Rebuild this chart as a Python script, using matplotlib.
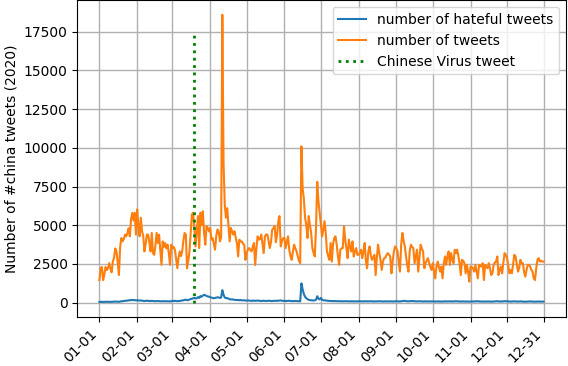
import matplotlib
matplotlib.use("Agg")
import matplotlib.pyplot as plt
import matplotlib.dates as mdates
import numpy as np
import pandas as pd

# daily counts 2020
tweets_jan = [1450, 2200, 2300, 1450, 1800, 2300, 2100, 2200, 2550, 2200, 1950, 2650, 2900, 3500, 3300, 2600,
              1780, 3600, 4170, 3955, 4100, 4390, 4280, 4500, 4800, 4280, 5400, 5800, 5300, 5800, 4390]
tweets_feb = [6020, 5000, 4280, 5480, 4610, 4300, 3305, 3800, 4390, 4390, 3900, 3305, 4500, 3195, 3085, 3700,
              4500, 3850, 4390, 3400, 2435, 3955, 3600, 3850, 3500, 3740, 3200, 2435, 3740]
tweets_mar = [3500, 3600, 3415, 2800, 2220, 2900, 3305, 3000, 3305, 4000, 4500, 4390, 2220, 2700, 3305, 4500,
              5700, 5800, 4800, 3630, 4600, 5590, 3520, 5800, 5000, 5900, 4500, 3740, 4935, 4825, 4600]
tweets_apr = [4825, 4065, 4170, 3800, 3415, 4300, 4720, 4610, 3955, 4200, 18600, 9000, 6300, 5480, 6100, 5000,
              3955, 4825, 4600, 4390, 4610, 4200, 3850, 2980, 4065, 3955, 3955, 3800, 3740, 2760]
tweets_may = [3200, 3415, 3520, 3400, 3305, 3600, 3850, 2435, 3500, 4280, 4065, 4100, 4390, 3800, 3195, 4280,
              4400, 4390, 4000, 3520, 3900, 4720, 4800, 4935, 3900, 4390, 5260, 5590, 3630, 4000, 4170]
tweets_jun = [4170, 3520, 3900, 4280, 3415, 3000, 2760, 3305, 3740, 3500, 3305, 2980, 2700, 2545, 10100, 7370,
              6725, 5480, 5000, 4170, 5590, 5000, 4500, 3520, 3200, 2980, 4825, 7800, 6565, 5800]
tweets_jul = [5040, 4280, 4700, 5260, 4500, 3305, 3000, 2760, 3850, 2650, 3800, 4170, 4280, 3740, 3000, 2435,
              3415, 3500, 3520, 4935, 4065, 3500, 2870, 4065, 3600, 3305, 3955, 2980, 3300, 3520, 3085]
tweets_aug = [3085, 3200, 3415, 2870, 3300, 3850, 2700, 2220, 3300, 3630, 3085, 2760, 2900, 3085, 1780, 2900,
              3740, 3200, 2760, 2110, 2650, 2870, 2900, 3085, 3195, 3100, 2980, 1890, 2650, 3300, 3630]
tweets_sep = [3520, 3305, 2600, 2000, 3740, 4500, 4000, 3630, 2980, 2400, 2000, 3305, 3740, 3600, 3520, 2545,
              3000, 3415, 2000, 2870, 3740, 3500, 3305, 2220, 2545, 2700, 2870, 2545, 2300, 2110]
tweets_oct = [2545, 2000, 1565, 2325, 2650, 2300, 2000, 2325, 1565, 2500, 2980, 2435, 3000, 3305, 2435, 3195,
              2800, 2545, 3415, 3195, 3415, 3000, 2545, 1780, 2760, 2700, 2545, 1890, 2435, 2000, 1350]
tweets_nov = [2325, 2300, 2220, 2000, 2435, 2000, 1565, 2435, 2400, 2325, 2545, 1455, 2435, 2300, 2220, 2545,
              2200, 1780, 1890, 2435, 2600, 2650, 2980, 1780, 2100, 2325, 1890, 2600, 3195, 3085]
tweets_dec = [2870, 2400, 1890, 2110, 1890, 2500, 3085, 2980, 2500, 2000, 2220, 2760, 2545, 2545, 2000, 1675,
              2100, 2435, 2435, 2325, 2110, 2000, 1565, 1455, 2200, 2760, 2870, 2650, 2700, 2650, 2650]

hate_jan = [40, 45, 50, 40, 45, 50, 55, 50, 45, 50, 45, 55, 60, 65, 60, 55, 50, 70, 80, 90, 100, 110, 120, 130,
            140, 150, 160, 170, 150, 160, 140]
hate_feb = [150, 140, 130, 140, 120, 110, 100, 110, 120, 110, 100, 95, 110, 100, 90, 85, 100, 95, 90, 85, 80, 90,
            85, 90, 80, 85, 80, 75, 90]
hate_mar = [95, 100, 110, 100, 90, 95, 110, 120, 130, 150, 170, 190, 150, 160, 200, 220, 250, 280, 300, 260, 280,
            350, 300, 420, 380, 450, 500, 480, 420, 400, 380]
hate_apr = [350, 320, 300, 280, 300, 320, 340, 330, 300, 320, 800, 500, 330, 280, 300, 250, 220, 200, 210, 190,
            180, 170, 160, 170, 150, 160, 150, 140, 150, 130]
hate_may = [130, 140, 130, 120, 110, 120, 130, 110, 120, 130, 120, 110, 100, 110, 120, 110, 100, 110, 120, 110,
            100, 105, 110, 120, 115, 110, 120, 130, 140, 120, 110]
hate_jun = [110, 105, 100, 110, 120, 100, 95, 90, 100, 105, 95, 90, 85, 80, 1240, 850, 550, 380, 280, 220, 180,
            160, 150, 140, 130, 150, 180, 410, 250, 200]
hate_jul = [300, 180, 150, 140, 130, 120, 110, 105, 100, 95, 100, 90, 95, 90, 85, 90, 85, 80, 85, 80, 90, 85, 80,
            75, 80, 85, 80, 75, 80, 75, 80]
hate_aug = [80, 85, 80, 75, 80, 90, 85, 80, 75, 80, 85, 80, 75, 70, 80, 75, 80, 85, 80, 75, 70, 75, 80, 75, 70,
            75, 80, 75, 70, 75, 80]
hate_sep = [85, 80, 75, 70, 80, 95, 110, 100, 90, 85, 80, 90, 95, 100, 90, 85, 80, 75, 80, 85, 80, 75, 70, 75,
            80, 75, 70, 75, 70, 80]
hate_oct = [75, 70, 65, 70, 75, 70, 65, 70, 65, 75, 80, 75, 70, 75, 80, 75, 70, 75, 80, 85, 80, 75, 70, 65, 70,
            75, 70, 65, 70, 65, 60]
hate_nov = [65, 70, 75, 70, 80, 85, 80, 75, 70, 65, 70, 60, 65, 70, 65, 70, 65, 60, 65, 70, 75, 80, 85, 75, 70,
            75, 70, 80, 90, 85]
hate_dec = [80, 75, 70, 65, 70, 75, 80, 75, 70, 65, 70, 75, 70, 65, 60, 55, 60, 65, 70, 75, 70, 65, 60, 55, 60,
            65, 70, 65, 60, 65, 60]

tweets = (tweets_jan + tweets_feb + tweets_mar + tweets_apr + tweets_may + tweets_jun +
          tweets_jul + tweets_aug + tweets_sep + tweets_oct + tweets_nov + tweets_dec)
hateful = (hate_jan + hate_feb + hate_mar + hate_apr + hate_may + hate_jun +
           hate_jul + hate_aug + hate_sep + hate_oct + hate_nov + hate_dec)

dates = pd.date_range("2020-01-01", periods=len(tweets), freq="D")
dates_h = pd.date_range("2020-01-01", periods=len(hateful), freq="D")
virus_tweet_day = pd.Timestamp("2020-03-19")
tick_labels = ["2020-%02d-01" % m for m in range(1, 13)] + ["2020-12-31"]

fig = plt.figure(figsize=(5.68, 3.66), dpi=100)
ax = fig.add_axes([0.136, 0.134, 0.86, 0.865])

ax.plot(dates_h, hateful, color="#1f77b4", lw=1.5, label="number of hateful tweets")
ax.plot(dates, tweets, color="#ff7f0e", lw=1.5, label="number of tweets")
ax.vlines(virus_tweet_day, 0, 17500, colors="green", linestyles=":", lw=2, label="Chinese Virus tweet")

ax.set_xticks(pd.to_datetime(tick_labels))
ax.xaxis.set_major_formatter(mdates.DateFormatter("%m-%d"))
plt.setp(ax.get_xticklabels(), rotation=45, ha="right")
ax.set_yticks(np.arange(0, 17501, 2500))
ax.tick_params(labelsize=10)
ax.grid(True, color="#b0b0b0", lw=1)
ax.set_ylabel("Number of #china tweets (2020)", fontsize=10)
ax.legend(loc="upper right", fontsize=10)

fig.savefig("out.png", dpi=100)
